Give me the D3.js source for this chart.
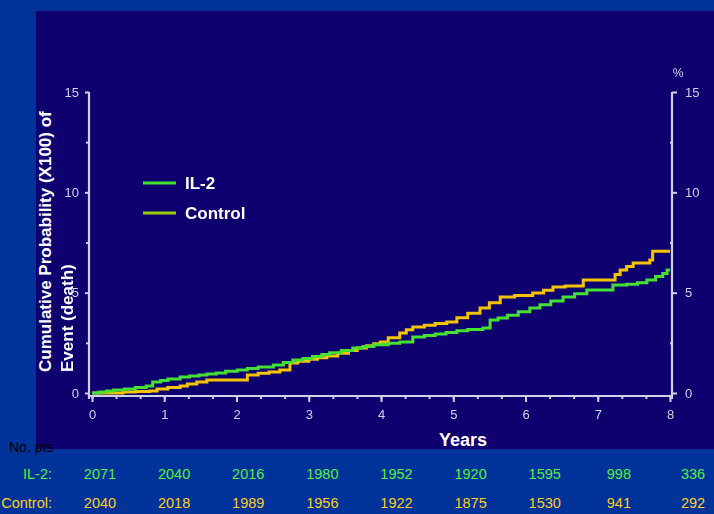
<!DOCTYPE html>
<html>
<head>
<meta charset="utf-8">
<script src="https://cdn.jsdelivr.net/npm/d3@7"></script>
<style>
  html, body { margin: 0; padding: 0; background: #003399; }
  svg { display: block; }
</style>
</head>
<body>
<svg id="chart" width="714" height="514"></svg>
<script>
// Kaplan–Meier style cumulative event curves (years, cumulative % of deaths)
const il2Years  = [0, 0.10, 0.20, 0.30, 0.45, 0.60, 0.75, 0.84, 0.95, 1.05, 1.22, 1.35, 1.48, 1.59, 1.72, 1.85, 2.01, 2.15, 2.30, 2.51, 2.65, 2.78, 2.92, 3.05, 3.18, 3.29, 3.45, 3.61, 3.75, 3.90, 4.10, 4.26, 4.44, 4.60, 4.75, 4.90, 5.05, 5.20, 5.41, 5.51, 5.62, 5.75, 5.90, 6.06, 6.20, 6.35, 6.52, 6.68, 6.85, 7.21, 7.40, 7.55, 7.68, 7.80, 7.90, 7.96, 8.00];
const il2Values = [0, 0.05, 0.10, 0.15, 0.20, 0.28, 0.35, 0.55, 0.62, 0.70, 0.80, 0.85, 0.90, 0.95, 1.00, 1.08, 1.15, 1.22, 1.30, 1.40, 1.52, 1.64, 1.72, 1.82, 1.92, 2.00, 2.12, 2.24, 2.32, 2.40, 2.48, 2.54, 2.79, 2.86, 2.94, 3.02, 3.10, 3.16, 3.24, 3.64, 3.74, 3.88, 4.05, 4.24, 4.40, 4.58, 4.78, 4.95, 5.13, 5.38, 5.42, 5.50, 5.63, 5.80, 5.95, 6.13, 6.13];

const ctrlYears  = [0, 0.43, 0.60, 0.80, 0.90, 1.05, 1.22, 1.32, 1.45, 1.59, 2.15, 2.30, 2.45, 2.60, 2.74, 2.85, 3.00, 3.12, 3.25, 3.40, 3.55, 3.67, 3.80, 3.90, 3.99, 4.10, 4.26, 4.35, 4.44, 4.60, 4.75, 4.91, 5.05, 5.20, 5.37, 5.50, 5.65, 5.85, 6.10, 6.25, 6.38, 6.55, 6.80, 7.24, 7.31, 7.40, 7.49, 7.72, 7.76, 8.00];
const ctrlValues = [0, 0.05, 0.08, 0.10, 0.20, 0.27, 0.35, 0.45, 0.55, 0.65, 0.90, 0.98, 1.05, 1.15, 1.50, 1.58, 1.68, 1.76, 1.84, 1.98, 2.12, 2.24, 2.36, 2.45, 2.54, 2.75, 2.99, 3.15, 3.29, 3.38, 3.46, 3.54, 3.75, 3.98, 4.24, 4.50, 4.78, 4.86, 4.98, 5.12, 5.28, 5.33, 5.63, 5.90, 6.13, 6.30, 6.48, 6.63, 7.07, 7.07];

const yearTicks   = [0, 1, 2, 3, 4, 5, 6, 7, 8];
const yMajorTicks = [0, 5, 10, 15];
const yMinorTicks = [2.5, 7.5, 12.5];

const legendNames  = ["IL-2", "Control"];
const legendColors = ["#44e030", "#99cc00"];
const curveColors  = ["#44e030", "#f5c400"];

// numbers at risk below the axis
const riskYears   = [0, 1, 2, 3, 4, 5, 6, 7, 8];
const riskIL2     = [2071, 2040, 2016, 1980, 1952, 1920, 1595, 998, 336];
const riskControl = [2040, 2018, 1989, 1956, 1922, 1875, 1530, 941, 292];

const svg = d3.select("#chart");
const W = 714, H = 514;

svg.append("rect").attr("width", W).attr("height", H).attr("fill", "#003399");
// dark panel
svg.append("rect").attr("x", 36).attr("y", 11).attr("width", W - 36).attr("height", 438).attr("fill", "#0f0070");

const defs = svg.append("defs");
defs.append("filter").attr("id", "soft")
  .append("feGaussianBlur").attr("stdDeviation", 0.6);

const x = d3.scaleLinear().domain([0, 8]).range([92, 670]);
const y = d3.scaleLinear().domain([0, 15]).range([393, 92]);

const plot = svg.append("g").attr("filter", "url(#soft)");
const axisColor = "#cfd0ea";
const tickFont = "'Liberation Sans Narrow', 'Liberation Sans', Arial, sans-serif";

// left axis
const leftX = 89;
plot.append("g").attr("transform", `translate(${leftX},0)`)
  .call(d3.axisLeft(y).tickValues(yMajorTicks).tickSize(4).tickPadding(6).tickFormat(d3.format("d")));
plot.append("g").attr("transform", `translate(${leftX},0)`)
  .call(d3.axisLeft(y).tickValues(yMinorTicks).tickSize(3).tickFormat(""));

// right axis
const rightX = 672;
plot.append("g").attr("transform", `translate(${rightX},0)`)
  .call(d3.axisRight(y).tickValues(yMajorTicks).tickSize(5).tickPadding(8).tickFormat(d3.format("d")));
plot.append("g").attr("transform", `translate(${rightX},0)`)
  .call(d3.axisLeft(y).tickValues(yMinorTicks).tickSize(2).tickFormat(""));
plot.append("text").attr("x", 678).attr("y", 77).attr("text-anchor", "middle")
  .attr("fill", axisColor).attr("font-family", tickFont).attr("font-size", 12).text("%");

// bottom axis with ticks every four months
const bottomY = 396;
const minorYears = d3.range(0, 25).map(i => i / 3);
plot.append("g").attr("transform", `translate(0,${bottomY})`)
  .call(d3.axisBottom(x).tickValues(minorYears).tickSize(3).tickFormat(""));
plot.append("g").attr("transform", `translate(0,${bottomY})`)
  .call(d3.axisBottom(x).tickValues(yearTicks).tickSize(6).tickPadding(8).tickFormat(d3.format("d")));

// axis styling
plot.selectAll(".tick line").attr("stroke", axisColor).attr("stroke-width", 2);
plot.selectAll(".tick text").attr("fill", axisColor).attr("font-family", tickFont)
  .attr("font-size", 13);

// frame lines drawn separately, without the axis end caps
plot.selectAll(".domain").remove();
plot.append("line").attr("x1", leftX).attr("x2", leftX).attr("y1", y(15)).attr("y2", bottomY + 3)
  .attr("stroke", axisColor).attr("stroke-width", 2.2);
plot.append("line").attr("x1", rightX).attr("x2", rightX).attr("y1", y(15)).attr("y2", bottomY + 3)
  .attr("stroke", axisColor).attr("stroke-width", 2.2);
plot.append("line").attr("x1", leftX).attr("x2", rightX).attr("y1", bottomY).attr("y2", bottomY)
  .attr("stroke", axisColor).attr("stroke-width", 2.2);

// curves
const line = d3.line().x(d => x(d[0])).y(d => y(d[1])).curve(d3.curveStepAfter);
const series = [
  { pts: d3.zip(ctrlYears, ctrlValues), color: curveColors[1] },
  { pts: d3.zip(il2Years, il2Values), color: curveColors[0] }
];
series.forEach(s => {
  plot.append("path").datum(s.pts).attr("d", line)
    .attr("fill", "none").attr("stroke", s.color).attr("stroke-width", 3);
});

// legend
const sans = "'Liberation Sans', Arial, sans-serif";
const lg = svg.append("g");
legendNames.forEach((name, i) => {
  const ly = 183 + i * 30;
  lg.append("line").attr("x1", 143).attr("x2", 176).attr("y1", ly).attr("y2", ly)
    .attr("stroke", legendColors[i]).attr("stroke-width", 3);
  lg.append("text").attr("x", 185).attr("y", ly + 6).attr("fill", "#ffffff")
    .attr("font-family", sans).attr("font-weight", "bold").attr("font-size", 17).text(name);
});

// axis titles
svg.append("text").attr("transform", "translate(51,372) rotate(-90)")
  .attr("fill", "#ffffff").attr("font-family", sans).attr("font-weight", "bold").attr("font-size", 17)
  .text("Cumulative Probability (X100) of");
svg.append("text").attr("transform", "translate(73,372) rotate(-90)")
  .attr("fill", "#ffffff").attr("font-family", sans).attr("font-weight", "bold").attr("font-size", 17)
  .text("Event (death)");
svg.append("text").attr("x", 463).attr("y", 446).attr("text-anchor", "middle")
  .attr("fill", "#ffffff").attr("font-family", sans).attr("font-weight", "bold").attr("font-size", 18)
  .text("Years");

// numbers at risk table
const riskX = d3.scalePoint().domain(riskYears).range([100, 693]);
svg.append("text").attr("x", 9).attr("y", 452).attr("fill", "#000000")
  .attr("font-family", sans).attr("font-size", 14).text("No. pts");
const rows = [
  { label: "IL-2:", values: riskIL2, color: "#55ee44", y: 479 },
  { label: "Control:", values: riskControl, color: "#ffcc22", y: 508 }
];
rows.forEach(r => {
  svg.append("text").attr("x", 52).attr("y", r.y).attr("text-anchor", "end")
    .attr("fill", r.color).attr("font-family", sans).attr("font-size", 14.5).text(r.label);
  svg.append("g").selectAll("text").data(r.values).join("text")
    .attr("x", (d, i) => riskX(riskYears[i])).attr("y", r.y).attr("text-anchor", "middle")
    .attr("fill", r.color).attr("font-family", sans).attr("font-size", 14.5).text(d => d);
});
</script>
</body>
</html>
